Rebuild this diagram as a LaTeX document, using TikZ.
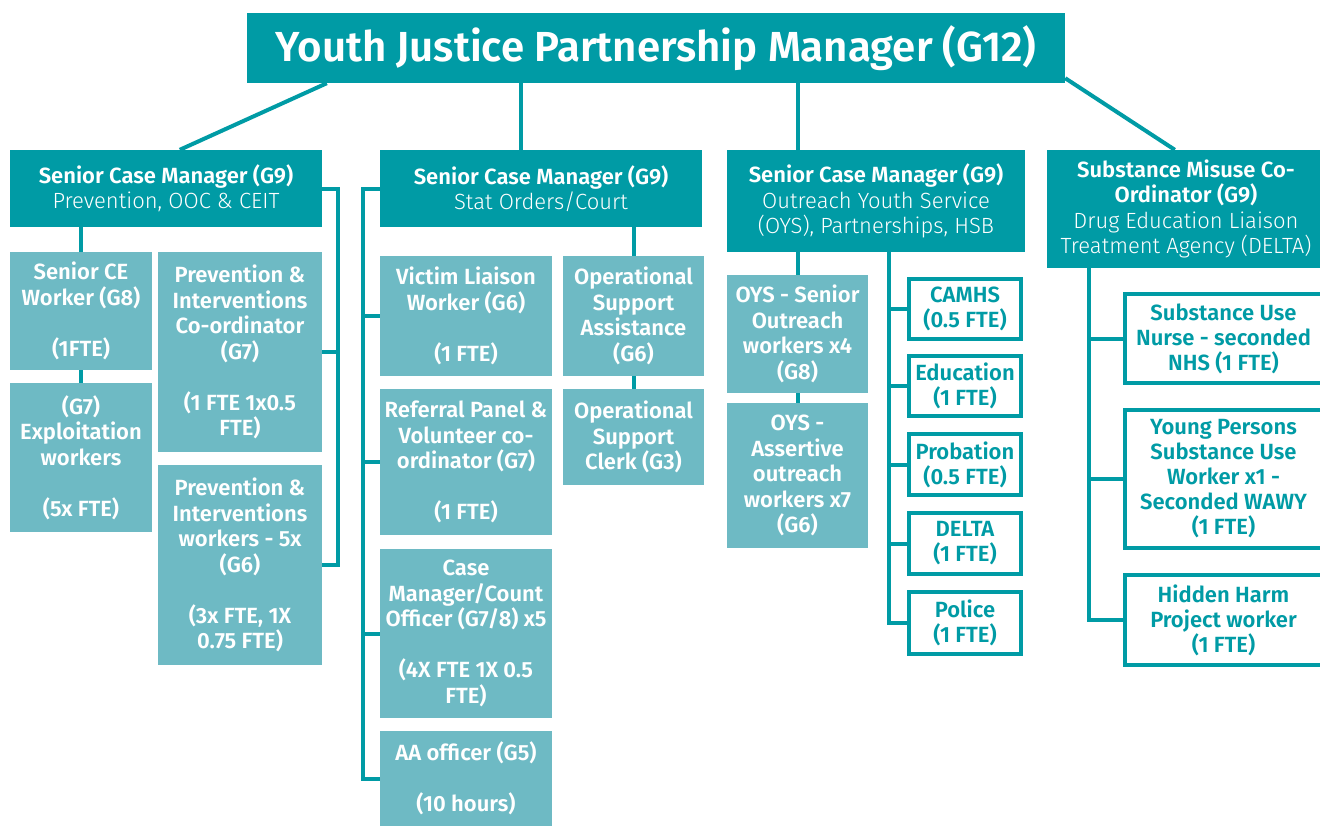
\documentclass[tikz,border=0pt]{standalone}
\usepackage{fontspec}
\setmainfont{Fira Sans}[BoldFont={Fira Sans SemiBold}]
\newfontfamily\lightfont{Fira Sans Light}
\usetikzlibrary{calc}
\definecolor{tealA}{HTML}{009BA5}
\definecolor{tealB}{HTML}{6EBAC4}
\tikzset{
  conn/.style={draw=tealA, line width=4pt},
  hdr/.style={fill=tealA, text=white, align=center, inner sep=0pt, font=\fontsize{22}{25.5}\selectfont},
  lbox/.style={fill=tealB, text=white, align=center, inner sep=0pt, font=\bfseries\fontsize{22}{25.5}\selectfont},
  obox/.style={draw=tealA, line width=4pt, fill=white, text=tealA, align=center, inner sep=0pt, font=\bfseries\fontsize{22}{25}\selectfont},
}
\begin{document}
\begin{tikzpicture}[x=1pt,y=-1pt]
\useasboundingbox (0,0) rectangle (1320,825);
\clip (0,0) rectangle (1320,825);
% top
\node[hdr, font=\bfseries\fontsize{42}{46}\selectfont, minimum width=818pt, minimum height=70pt] (top) at (656,48) {Youth Justice Partnership Manager (G12)};
% headers
\node[hdr, minimum width=312pt, minimum height=77pt] (hA) at (166,188.5) {{\bfseries Senior Case Manager (G9)}\\{\lightfont Prevention, OOC \& CEIT}};
\node[hdr, minimum width=322pt, minimum height=77pt] (hB) at (541,188.5) {{\bfseries Senior Case Manager (G9)}\\{\lightfont Stat Orders/Court}};
\node[hdr, minimum width=298pt, minimum height=102pt] (hC) at (876,201) {{\bfseries Senior Case Manager (G9)}\\{\lightfont Outreach Youth Service}\\{\lightfont (OYS), Partnerships, HSB}};
\node[hdr, minimum width=278pt, minimum height=118pt] (hD) at (1186,209) {{\bfseries Substance Misuse Co-}\\{\bfseries Ordinator (G9)}\\{\lightfont Drug Education Liaison}\\{\lightfont Treatment Agency (DELTA)}};
% column A
\node[lbox, minimum width=142pt, minimum height=118pt] (sce) at (81,311) {Senior CE\\Worker (G8)\\[25.5pt](1FTE)};
\node[lbox, minimum width=142pt, minimum height=149pt] (exw) at (81,457.5) {(G7)\\Exploitation\\workers\\[25.5pt](5x FTE)};
\node[lbox, minimum width=164pt, minimum height=200pt] (pic) at (240,352) {Prevention \&\\Interventions\\Co-ordinator\\(G7)\\[25.5pt](1 FTE 1x0.5\\FTE)};
\node[lbox, minimum width=164pt, minimum height=200pt] (piw) at (240,565) {Prevention \&\\Interventions\\workers - 5x\\(G6)\\[25.5pt](3x FTE, 1X\\0.75 FTE)};
% column B
\node[lbox, minimum width=172pt, minimum height=120pt] (vlw) at (466,316) {Victim Liaison\\Worker (G6)\\[25.5pt](1 FTE)};
\node[lbox, minimum width=172pt, minimum height=146pt] (rpv) at (466,462) {Referral Panel \&\\Volunteer co-\\ordinator (G7)\\[25.5pt](1 FTE)};
\node[lbox, minimum width=172pt, minimum height=169pt] (cmc) at (466,633.5) {Case\\Manager/Count\\Officer (G7/8) x5\\[25.5pt](4X FTE 1X 0.5\\FTE)};
\node[lbox, minimum width=172pt, minimum height=95pt] (aao) at (466,778.5) {AA officer (G5)\\[25.5pt](10 hours)};
\node[lbox, minimum width=141pt, minimum height=120pt] (osa) at (633.5,316) {Operational\\Support\\Assistance\\(G6)};
\node[lbox, minimum width=141pt, minimum height=96pt] (osc) at (633.5,437) {Operational\\Support\\Clerk (G3)};
% column C
\node[lbox, minimum width=141pt, minimum height=118pt] (oys1) at (797.5,334) {OYS - Senior\\Outreach\\workers x4\\(G8)};
\node[lbox, minimum width=141pt, minimum height=145pt] (oys2) at (797.5,475.5) {OYS -\\Assertive\\outreach\\workers x7\\(G6)};
\node[obox, minimum width=112pt, minimum height=60pt] (camhs) at (965,309) {CAMHS\\(0.5 FTE)};
\node[obox, minimum width=112pt, minimum height=60pt] (edu) at (965,386) {Education\\(1 FTE)};
\node[obox, minimum width=112pt, minimum height=61pt] (prob) at (965,464.5) {Probation\\(0.5 FTE)};
\node[obox, minimum width=112pt, minimum height=61pt] (delta) at (965,543.5) {DELTA\\(1 FTE)};
\node[obox, minimum width=112pt, minimum height=62pt] (police) at (965,623) {Police\\(1 FTE)};
% column D
\node[obox, minimum width=197pt, minimum height=89pt] (snurse) at (1223.5,338.5) {Substance Use\\Nurse - seconded\\NHS (1 FTE)};
\node[obox, minimum width=197pt, minimum height=138pt] (yps) at (1223.5,479) {Young Persons\\Substance Use\\Worker x1 -\\Seconded WAWY\\(1 FTE)};
\node[obox, minimum width=197pt, minimum height=90pt] (hhp) at (1223.5,620) {Hidden Harm\\Project worker\\(1 FTE)};
% connectors from top
\draw[conn] ([xshift=80pt]top.south west) -- ([xshift=170pt]hA.north west);
\coordinate (bB) at ([xshift=-20pt]hB.north);
\draw[conn] (bB) -- (bB |- top.south);
\coordinate (bC) at ([xshift=-78pt]hC.north);
\draw[conn] (bC) -- (bC |- top.south);
\draw[conn] ([yshift=5pt]top.south east) -- ([xshift=128pt]hD.north west);
% column A connectors
\draw[conn] (hA.south -| sce.north) -- (sce.north);
\draw[conn] (sce.south) -- (exw.north);
\coordinate (kA) at ([xshift=16pt]hA.east);
\draw[conn] (hA.east) -- (kA) |- (piw.east);
\draw[conn] (kA |- pic.east) -- (pic.east);
% column B connectors
\coordinate (kB) at ([xshift=-17pt]hB.west);
\draw[conn] (hB.west) -- (kB) |- (aao.west);
\draw[conn] (kB |- vlw.west) -- (vlw.west);
\draw[conn] (kB |- rpv.west) -- (rpv.west);
\draw[conn] (kB |- cmc.west) -- (cmc.west);
\draw[conn] (hB.south -| osa.north) -- (osa.north);
\draw[conn] (osa.south) -- (osc.north);
% column C connectors
\draw[conn] (hC.south -| oys1.north) -- (oys1.north);
\draw[conn] (oys1.south) -- (oys2.north);
\coordinate (kC) at ([xshift=13pt]hC.south);
\draw[conn] (kC) |- (police.west);
\draw[conn] (kC |- camhs.west) -- (camhs.west);
\draw[conn] (kC |- edu.west) -- (edu.west);
\draw[conn] (kC |- prob.west) -- (prob.west);
\draw[conn] (kC |- delta.west) -- (delta.west);
% column D connectors
\coordinate (kD) at ([xshift=-97pt]hD.south);
\draw[conn] (kD) |- (hhp.west);
\draw[conn] (kD |- snurse.west) -- (snurse.west);
\draw[conn] (kD |- yps.west) -- (yps.west);
\end{tikzpicture}
\end{document}
